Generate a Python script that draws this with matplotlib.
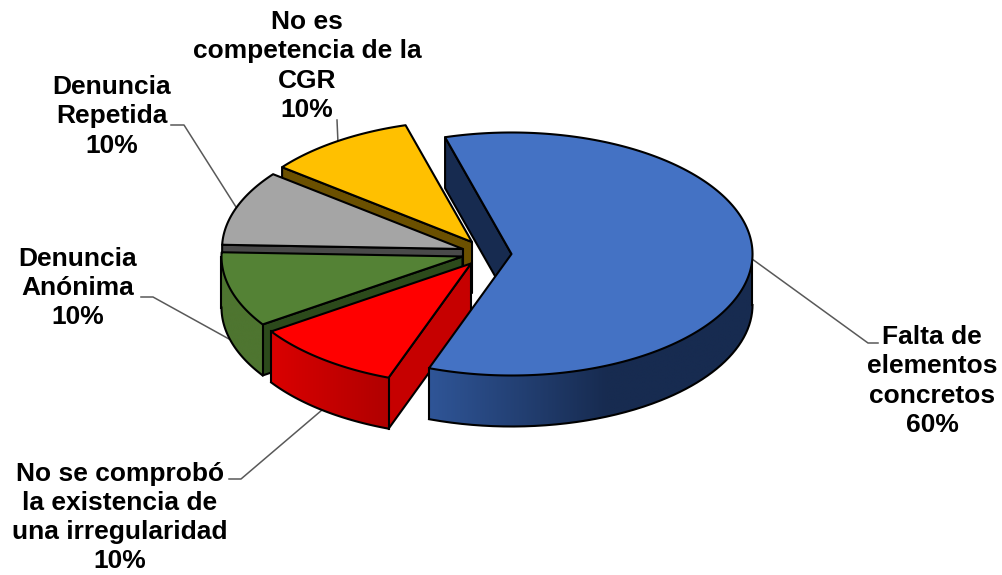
import numpy as np
import matplotlib
matplotlib.use("Agg")
import matplotlib.pyplot as plt
from matplotlib.colors import LinearSegmentedColormap
from matplotlib.patches import Polygon

plt.rcParams['font.family'] = ['Liberation Sans', 'DejaVu Sans']

labels = ["Falta de\nelementos\nconcretos", "No se comprobó\nla existencia de\nuna irregularidad",
          "Denuncia\nAnónima", "Denuncia\nRepetida", "No es\ncompetencia de la\nCGR"]
values = [60, 10, 10, 10, 10]

# colores: tapa, pared del corte, pared exterior (izq -> der)
top_colors = ["#4472C4", "#FF0000", "#548235", "#A5A5A5", "#FFC000"]
cut_colors = ["#172B50", "#C60000", "#2C4A1B", "#4A4A4A", "#6B5000"]
rim_left = ["#2F5597", "#DA0000", "#4E7530", "#7F7F7F", "#BF9000"]
rim_right = ["#172B50", "#B00000", "#4E7530", "#7F7F7F", "#BF9000"]

# vertice de cada rebanada en pixeles (explosion)
apex_x = [511.5, 471, 462.5, 463, 472]
apex_y = [254, 263.5, 256.5, 249, 242]
label_x = [932, 120, 78, 112, 307]
label_y = [381, 517.5, 288, 116.5, 66]

# lineas guia
leaders = [([753.5, 868, 878], [260, 343, 343]),
           ([322, 241, 229], [410, 479, 479]),
           ([229, 153, 141], [339, 297, 297]),
           ([236, 184, 171], [207, 125, 125]),
           ([338, 337], [143, 120])]

rx = 241
ry = 121.5
depth = 51
start_angle = -16

fig = plt.figure(figsize=(10.02, 5.75), dpi=100)
ax = fig.add_axes([0, 0, 1, 1])


def arc(cx, cy, a0, a1):
    n = max(2, int(abs(a1 - a0) * 2))
    t = np.radians(np.linspace(a0, a1, n))
    return cx + rx * np.sin(t), cy - ry * np.cos(t)


def draw_slice(i, a0, a1, z):
    cx, cy = apex_x[i], apex_y[i]
    # pared del corte (cara frontal del primer borde)
    ex, ey = arc(cx, cy, a0, a0)
    px = [cx, ex[0], ex[0], cx]
    py = [cy, ey[0], ey[0] + depth, cy + depth]
    ax.add_patch(Polygon(np.column_stack([px, py]), fc=cut_colors[i], ec="black", lw=1.5,
                         joinstyle="round", zorder=z))

    # pared exterior, solo la parte que mira al frente
    lo = max(a0, 90)
    hi = min(a1, 270)
    if lo < hi:
        x, y = arc(cx, cy, lo, hi)
        pts = np.column_stack([np.r_[x, x[::-1]], np.r_[y, y[::-1] + depth]])
        clip = Polygon(pts, fc="none", ec="none", transform=ax.transData)
        ax.add_patch(clip)
        # degradado horizontal recortado a la pared
        cmap = LinearSegmentedColormap.from_list("rim", [rim_left[i], rim_right[i]])
        frac = 0.55 if i == 0 else 1.0
        grad = np.clip(np.linspace(0, 1 / frac, 256), 0, 1).reshape(1, -1)
        im = ax.imshow(grad, cmap=cmap, vmin=0, vmax=1, aspect="auto", interpolation="bilinear",
                       extent=[x.min(), x.max(), y.max() + depth, y.min()], zorder=z + 1)
        im.set_clip_path(clip)
        ax.plot(x, y + depth, color="black", lw=1.5, zorder=z + 2)
        ax.plot([x[0], x[0]], [y[0], y[0] + depth], color="black", lw=1.5, zorder=z + 2)
        ax.plot([x[-1], x[-1]], [y[-1], y[-1] + depth], color="black", lw=1.5, zorder=z + 2)

    # tapa
    x, y = arc(cx, cy, a0, a1)
    pts = np.column_stack([np.r_[cx, x], np.r_[cy, y]])
    ax.add_patch(Polygon(pts, fc=top_colors[i], ec="black", lw=1.5, joinstyle="round", zorder=z + 3))


# se pinta de atras hacia adelante
edges = start_angle + np.r_[0, np.cumsum(values)] * 360 / sum(values)
for z, i in enumerate([4, 3, 2, 1, 0]):
    draw_slice(i, edges[i], edges[i + 1], 10 + z * 10)

for lx, ly in leaders:
    ax.plot(lx, ly, color="#595959", lw=1.1, zorder=1)

for i in range(len(labels)):
    ax.text(label_x[i], label_y[i], labels[i] + "\n%d%%" % values[i], ha="center", va="center",
            ma="center", fontsize=19, fontweight="bold", color="black", linespacing=1.28, zorder=100)

ax.set_xlim(0, 1002)
ax.set_ylim(575, 0)
ax.axis("off")

fig.savefig("out.png", dpi=100)
